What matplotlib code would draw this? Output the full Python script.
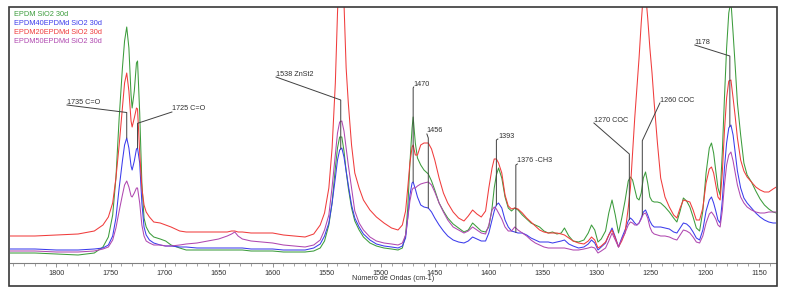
import numpy as np
import matplotlib
matplotlib.use("Agg")
import matplotlib.pyplot as plt
from matplotlib.patches import Rectangle
from matplotlib.ticker import MultipleLocator

plt.rcParams['font.family'] = ['Liberation Sans', 'DejaVu Sans']

# numero de onda (cm-1), eixo invertido
wn = [1844, 1820, 1800, 1780, 1765, 1757, 1752, 1748, 1745, 1742, 1739, 1737, 1735, 1733, 1731, 1730,
      1728, 1726, 1725, 1723, 1721, 1719, 1717, 1714, 1710, 1704, 1699, 1694, 1686, 1680, 1670, 1660,
      1650, 1642, 1638, 1635, 1632, 1628, 1620, 1610, 1600, 1590, 1580, 1570, 1562, 1556, 1552, 1548,
      1545, 1542, 1540, 1538, 1536, 1534, 1532, 1530, 1527, 1524, 1520, 1516, 1510, 1504, 1497, 1490,
      1484, 1480, 1477, 1475, 1473, 1471, 1470, 1468, 1466, 1463, 1460, 1456, 1453, 1450, 1446, 1442,
      1438, 1433, 1428, 1423, 1419, 1415, 1411, 1407, 1403, 1400, 1397, 1395, 1393, 1391, 1388, 1385,
      1382, 1379, 1376, 1373, 1369, 1365, 1361, 1357, 1353, 1349, 1345, 1341, 1337, 1333, 1330, 1326,
      1322, 1317, 1312, 1308, 1305, 1302, 1299, 1296, 1292, 1289, 1286, 1283, 1280, 1277, 1274, 1271,
      1269, 1267, 1265, 1263, 1261, 1259, 1257, 1255, 1253, 1251, 1249, 1247, 1244, 1241, 1237, 1233,
      1229, 1226, 1223, 1220, 1217, 1214, 1211, 1208, 1205, 1202, 1199, 1196, 1194, 1192, 1190, 1188,
      1186, 1184, 1182, 1180, 1178, 1176, 1174, 1172, 1170, 1167, 1164, 1161, 1157, 1153, 1149, 1145,
      1141, 1137, 1134]

# EPDM SiO2 30d
green = [10, 10, 9, 8, 10, 16, 26, 48, 85, 145, 195, 222, 236, 215, 168, 155,
         172, 200, 202, 150, 80, 45, 36, 30, 26, 24, 22, 18, 15, 13, 13, 13,
         13, 13, 13, 13, 13, 13, 12, 12, 12, 11, 11, 11, 12, 15, 22, 38,
         60, 95, 115, 126, 126, 112, 92, 75, 55, 42, 33, 26, 20, 17, 15, 14,
         13, 15, 28, 55, 100, 135, 146, 120, 105, 98, 93, 89, 82, 73, 60, 52,
         45, 39, 35, 31, 33, 40, 36, 32, 31, 36, 55, 75, 88, 95, 85, 66,
         55, 52, 55, 53, 48, 44, 40, 38, 36, 32, 30, 31, 29, 30, 35, 27,
         22, 21, 23, 30, 38, 33, 21, 24, 32, 50, 63, 48, 30, 45, 62, 82,
         86, 83, 74, 65, 63, 70, 85, 91, 80, 66, 62, 61, 61, 60, 56, 51,
         45, 41, 52, 65, 62, 56, 46, 35, 32, 52, 90, 115, 120, 110, 92, 75,
         68, 110, 165, 215, 250, 262, 230, 196, 160, 128, 100, 88, 81, 72, 64, 58,
         54, 51, 50]

# EPDM40EPDMd SiO2 30d
blue = [14, 14, 13, 13, 14, 15, 18, 27, 45, 75, 102, 118, 125, 115, 97, 93,
        102, 114, 115, 100, 60, 36, 28, 23, 20, 18, 17, 17, 16, 16, 15, 15,
        15, 15, 15, 15, 15, 15, 14, 14, 14, 13, 13, 13, 15, 19, 27, 40,
        60, 85, 103, 113, 115, 106, 92, 78, 58, 45, 36, 29, 23, 19, 17, 16,
        15, 17, 25, 45, 68, 80, 81, 74, 66, 58, 56, 55, 51, 45, 38, 32,
        27, 23, 21, 20, 22, 26, 24, 22, 22, 30, 43, 52, 58, 60, 55, 43,
        36, 32, 31, 30, 30, 28, 25, 23, 21, 21, 21, 20, 21, 22, 23, 19,
        17, 15, 16, 19, 23, 20, 13, 16, 20, 28, 35, 26, 16, 25, 33, 42,
        45, 43, 40, 38, 40, 45, 51, 53, 48, 42, 38, 36, 36, 36, 35, 34,
        31, 30, 35, 40, 39, 36, 31, 25, 23, 33, 52, 63, 66, 60, 52, 43,
        40, 62, 95, 120, 135, 138, 128, 110, 92, 75, 65, 60, 55, 50, 46, 43,
        41, 40, 40]

# EPDM20EPDMd SiO2 30d
red = [27, 27, 28, 29, 32, 38, 46, 60, 85, 118, 155, 180, 190, 172, 142, 136,
       145, 155, 154, 110, 75, 58, 51, 46, 41, 40, 38, 36, 32, 31, 31, 31,
       31, 31, 32, 32, 31, 31, 30, 30, 30, 28, 27, 26, 29, 38, 50, 75,
       115, 180, 250, 300, 300, 260, 195, 160, 118, 90, 75, 63, 53, 46, 40, 35,
       33, 38, 52, 75, 100, 116, 118, 108, 108, 118, 120, 120, 114, 103, 85, 70,
       60, 51, 45, 42, 47, 53, 49, 46, 52, 75, 95, 104, 104, 100, 90, 68,
       57, 54, 55, 54, 50, 45, 41, 37, 33, 31, 30, 30, 30, 29, 28, 25,
       22, 20, 19, 22, 26, 23, 15, 17, 21, 28, 33, 25, 16, 22, 30, 55,
       75, 110, 145, 175, 205, 240, 270, 270, 245, 215, 190, 160, 120, 85, 66, 56,
       48, 45, 55, 63, 62, 61, 53, 43, 43, 55, 80, 94, 96, 90, 78, 66,
       63, 90, 132, 165, 182, 183, 165, 146, 125, 103, 92, 86, 81, 76, 73, 71,
       71, 74, 76]

# EPDM50EPDMd SiO2 30d
purple = [12, 12, 11, 11, 12, 14, 16, 23, 35, 52, 68, 78, 82, 76, 67, 66,
          70, 75, 75, 60, 38, 27, 22, 20, 18, 18, 17, 17, 18, 19, 20, 22,
          24, 27, 29, 31, 27, 24, 22, 21, 20, 18, 17, 16, 18, 23, 33, 48,
          76, 108, 130, 141, 142, 132, 115, 98, 75, 52, 40, 33, 26, 22, 20, 19,
          18, 20, 28, 45, 62, 73, 75, 75, 77, 79, 80, 81, 78, 71, 60, 51,
          43, 36, 33, 30, 32, 36, 33, 30, 29, 38, 53, 56, 54, 50, 44, 36,
          32, 32, 36, 33, 30, 27, 23, 20, 18, 16, 15, 15, 15, 15, 15, 14,
          13, 13, 14, 15, 16, 15, 10, 12, 15, 22, 30, 23, 16, 24, 30, 38,
          41, 40, 38, 38, 40, 44, 49, 50, 45, 36, 31, 29, 28, 27, 27, 26,
          24, 23, 28, 33, 32, 30, 26, 21, 20, 27, 40, 49, 51, 48, 44, 38,
          36, 52, 78, 98, 108, 111, 102, 90, 78, 66, 60, 56, 53, 51, 50, 50,
          51, 51, 51]

series = [
    ('EPDM SiO2 30d', green, '#3c9c3c'),
    ('EPDM40EPDMd SiO2 30d', blue, '#3c3cec'),
    ('EPDM20EPDMd SiO2 30d', red, '#f03c3c'),
    ('EPDM50EPDMd SiO2 30d', purple, '#b048b0'),
]

# rotulos dos picos: texto, pico, x do texto, y do texto, cotovelo
labels = ['1735 C=O', '1725 C=O', '1538 ZnSt2', '1470', '1456', '1393', '1376 -CH3', '1270 COC', '1260 COC', '1178']
peak_pos = [1735, 1725, 1537, 1470, 1456, 1393, 1375, 1270, 1258, 1177]
text_x = [1790.3, 1693.2, 1596.9, 1469.5, 1457.3, 1391.6, 1373.6, 1302.8, 1241.7, 1209.4]
text_y = [161, 154, 189, 179, 132, 127, 102, 143, 163, 221]
elbow_y = [150.5, 139.7, 163, 175, 125, 123, 98, 109, 122.3, 207]

W, H = 786, 294
fig = plt.figure(figsize=(W / 100, H / 100), dpi=100)
fig.patch.set_facecolor('white')

def fx(x):
    return x / W

def fy(y):
    return 1 - y / H

ax = fig.add_axes([fx(10), fy(263), fx(776) - fx(10), fy(7) - fy(263)])

for name, vals, col in series:
    ax.plot(wn, vals, color=col, lw=0.75)

# linhas dos picos ate a curva azul
wn_asc = np.array(wn[::-1])
blue_asc = np.array(blue[::-1])
for lab, p, tx, ty, ey in zip(labels, peak_pos, text_x, text_y, elbow_y):
    bottom = np.interp(p, wn_asc, blue_asc)
    ax.plot([tx, p, p], [ty - 3, ey, bottom], color='#404040', lw=0.7)
    ax.text(tx, ty, lab, fontsize=5.2, color='#303030', ha='left', va='center')

ax.set_xlim(1843, 1134.3)
ax.set_ylim(0, 256)
ax.set_yticks([])
ax.xaxis.set_major_locator(MultipleLocator(50))
ax.xaxis.set_minor_locator(MultipleLocator(10))
ax.tick_params(axis='x', which='major', direction='out', length=3, width=0.6,
               color='#808080', labelsize=5.2, labelcolor='#303030', pad=2)
ax.tick_params(axis='x', which='minor', direction='out', length=2, width=0.5, color='#808080')
for s in ['left', 'top', 'right']:
    ax.spines[s].set_visible(False)
ax.spines['bottom'].set_color('#808080')
ax.spines['bottom'].set_linewidth(0.8)

# legenda no canto
for i, (name, vals, col) in enumerate(series):
    fig.text(fx(14), fy(14 + 9.1 * i), name, fontsize=5.3, color=col, ha='left', va='center')

fig.text(fx(393), fy(279), 'Número de Ondas (cm-1)', fontsize=5.2, color='#303030',
         ha='center', va='center')

fig.patches.append(Rectangle((fx(9), fy(286)), fx(777) - fx(9), fy(7) - fy(286),
                             transform=fig.transFigure, fill=False, edgecolor='#383838', lw=1.2))

fig.savefig('out.png', dpi=100)
